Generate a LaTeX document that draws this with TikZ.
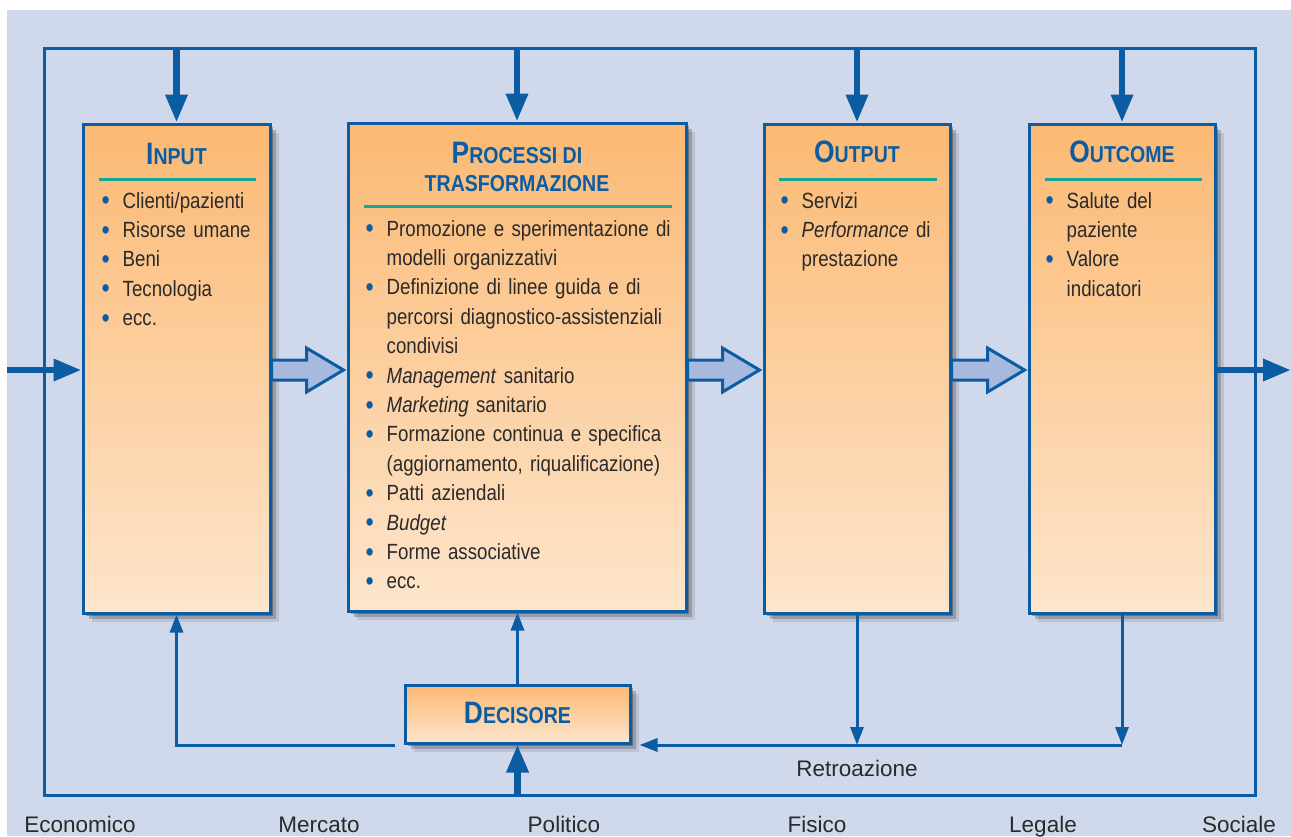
\documentclass[tikz,border=0pt]{standalone}
\usepackage{fontspec}
\setmainfont[FakeStretch=0.85]{Liberation Sans}
\newfontfamily\widefont{Liberation Sans}
\usetikzlibrary{arrows.meta,shadows,calc}
\definecolor{bgblue}{HTML}{D0D9EB}
\definecolor{lineblue}{HTML}{0C5CA4}
\definecolor{arrowfill}{HTML}{A7B9DC}
\definecolor{orangetop}{HTML}{FBB973}
\definecolor{orangebot}{HTML}{FDE5CC}
\definecolor{tealrule}{HTML}{12A895}
\definecolor{textdark}{HTML}{2A2A2A}
\newcommand\nl{\hfil\break}
\newcommand\bitem[1]{\par\hangindent=21pt\hangafter=1\noindent\makebox[21pt][l]{\textcolor{lineblue}{\raisebox{-1.5pt}{\scalebox{1.25}{\textbullet}}}}#1\par}
\newcommand\ttl[2]{{\fontsize{31}{31}\selectfont #1}{\fontsize{23}{23}\selectfont #2}}
\newcommand\hollowarr[2]{%
  \path[hollow] let \p1=(#1.east), \p2=(#2.west) in
    (\x1,-360pt) -- (\x2-40pt,-360pt) -- (\x2-40pt,-348pt) -- (\x2-3pt,-370pt)
    -- (\x2-40pt,-392pt) -- (\x2-40pt,-380pt) -- (\x1,-380pt) -- cycle;}
\tikzset{
  boxshadow/.style={
    general shadow={shadow xshift=3pt, shadow yshift=-3pt, fill=black, opacity=0.28},
    general shadow={shadow xshift=6pt, shadow yshift=-6pt, fill=black, opacity=0.2},
    general shadow={shadow xshift=9pt, shadow yshift=-9pt, fill=black, opacity=0.1}},
  box/.style={draw=lineblue, line width=3pt, top color=orangetop, bottom color=orangebot,
    inner sep=0pt, boxshadow},
  bigarrow/.style={draw=lineblue, line width=6.5pt, -{Triangle[length=28pt,width=21pt]}},
  smallarrow/.style={draw=lineblue, line width=3pt, -{Triangle[length=18pt,width=13pt]}},
  frameline/.style={draw=lineblue, line width=3pt},
  hollow/.style={draw=lineblue, line width=3pt, fill=arrowfill, line join=miter},
  title/.style={anchor=base, inner sep=0pt, text=lineblue, font=\bfseries},
  rulestyle/.style={draw=tealrule, line width=3pt},
  listnode/.style={anchor=north west, inner sep=0pt, text width=330pt,
    text=textdark, font=\fontsize{22}{29.4}\selectfont\raggedright},
  lbl/.style={inner sep=0pt, text=textdark, font=\widefont\fontsize{22.5}{24}\selectfont},
}
\begin{document}
\begin{tikzpicture}[x=1pt,y=1pt]
\useasboundingbox (0,0) rectangle (1291,-836);
\fill[bgblue] (7,-10) rectangle (1291,-836);
% frame
\draw[frameline] (44,-48) rectangle (1255,-795);
\coordinate (ftop) at (0,-48);
\coordinate (fbot) at (0,-795);
% boxes
\node[box, minimum width=187pt, minimum height=489pt] (input) at (176.5,-368.5) {};
\node[box, minimum width=338pt, minimum height=488pt] (proc) at (517,-367) {};
\node[box, minimum width=186pt, minimum height=489pt] (output) at (857,-368.5) {};
\node[box, minimum width=186pt, minimum height=489pt] (outcome) at (1122,-368.5) {};
\node[box, minimum width=225pt, minimum height=58pt] (dec) at (517.5,-714) {};
% titles
\node[title] (inputT) at ($(input.north)+(0,-42)$) {\ttl{I}{NPUT}};
\node[title] (procT1) at ($(proc.north)+(0,-42)$) {\ttl{P}{ROCESSI DI}};
\node[title] (procT2) at ($(proc.north)+(0,-70)$) {\fontsize{23}{23}\selectfont TRASFORMAZIONE};
\node[title] (outputT) at ($(output.north)+(0,-40)$) {\ttl{O}{UTPUT}};
\node[title] (outcomeT) at ($(outcome.north)+(0,-40)$) {\ttl{O}{UTCOME}};
\node[title] (decT) at ($(dec.north)+(0,-40)$) {\ttl{D}{ECISORE}};
% rules
\draw[rulestyle] ($(input.north west)+(17,-57)$) -- ($(input.north east)+(-16,-57)$);
\draw[rulestyle] ($(proc.north west)+(17,-85)$) -- ($(proc.north east)+(-16,-85)$);
\draw[rulestyle] ($(output.north west)+(16,-57)$) -- ($(output.north east)+(-15,-57)$);
\draw[rulestyle] ($(outcome.north west)+(17,-57)$) -- ($(outcome.north east)+(-15,-57)$);
% lists
\node[listnode] (inputL) at ($(input.north west)+(20,-56)$) {%
\bitem{Clienti/pazienti}\bitem{Risorse umane}\bitem{Beni}\bitem{Tecnologia}\bitem{ecc.}};
\node[listnode] (procL) at ($(proc.north west)+(19,-85)$) {%
\bitem{Promozione e sperimentazione di\nl modelli organizzativi}%
\bitem{Definizione di linee guida e di\nl percorsi diagnostico-assistenziali\nl condivisi}%
\bitem{\emph{Management} sanitario}%
\bitem{\emph{Marketing} sanitario}%
\bitem{Formazione continua e specifica\nl (aggiornamento, riqualificazione)}%
\bitem{Patti aziendali}%
\bitem{\emph{Budget}}%
\bitem{Forme associative}%
\bitem{ecc.}};
\node[listnode] (outputL) at ($(output.north west)+(18,-56)$) {%
\bitem{Servizi}\bitem{\emph{Performance} di\nl prestazione}};
\node[listnode] (outcomeL) at ($(outcome.north west)+(18,-56)$) {%
\bitem{Salute del\nl paziente}\bitem{Valore\nl indicatori}};
% top arrows
\draw[bigarrow] (input.north |- ftop) -- (input.north);
\draw[bigarrow] (proc.north |- ftop) -- (proc.north);
\draw[bigarrow] (output.north |- ftop) -- (output.north);
\draw[bigarrow] (outcome.north |- ftop) -- (outcome.north);
% entry / exit
\coordinate (lin) at (7,-370);
\coordinate (lout) at (1291,-370);
\draw[bigarrow] (lin) -- (lin -| input.west);
\draw[bigarrow] (lout -| outcome.east) -- (lout);
% hollow arrows
\hollowarr{input}{proc}
\hollowarr{proc}{output}
\hollowarr{output}{outcome}
% decisore connections
\draw[bigarrow] (dec.south |- fbot) -- (dec.south);
\draw[smallarrow] (dec.north) -- (dec.north |- proc.south);
\coordinate (ry) at (0,-745);
\draw[smallarrow] (output.south) -- (output.south |- ry);
\draw[smallarrow] (outcome.south) -- (outcome.south |- ry);
\coordinate (rend) at ($(dec.south east |- ry)+(8,0)$);
\draw[smallarrow] (outcome.south |- ry) -- (rend);
\coordinate (dl) at ($(dec.south west |- ry)+(-9,0)$);
\draw[smallarrow] (dl) -| (input.south);
% labels
\node[lbl] (retro) at (857,-768) {Retroazione};
\node[lbl, anchor=base] (l1) at (80,-832) {Economico};
\node[lbl, anchor=base] (l2) at (319,-832) {Mercato};
\node[lbl, anchor=base] (l3) at (564,-832) {Politico};
\node[lbl, anchor=base] (l4) at (817,-832) {Fisico};
\node[lbl, anchor=base] (l5) at (1043,-832) {Legale};
\node[lbl, anchor=base] (l6) at (1239,-832) {Sociale};
\end{tikzpicture}
\end{document}
